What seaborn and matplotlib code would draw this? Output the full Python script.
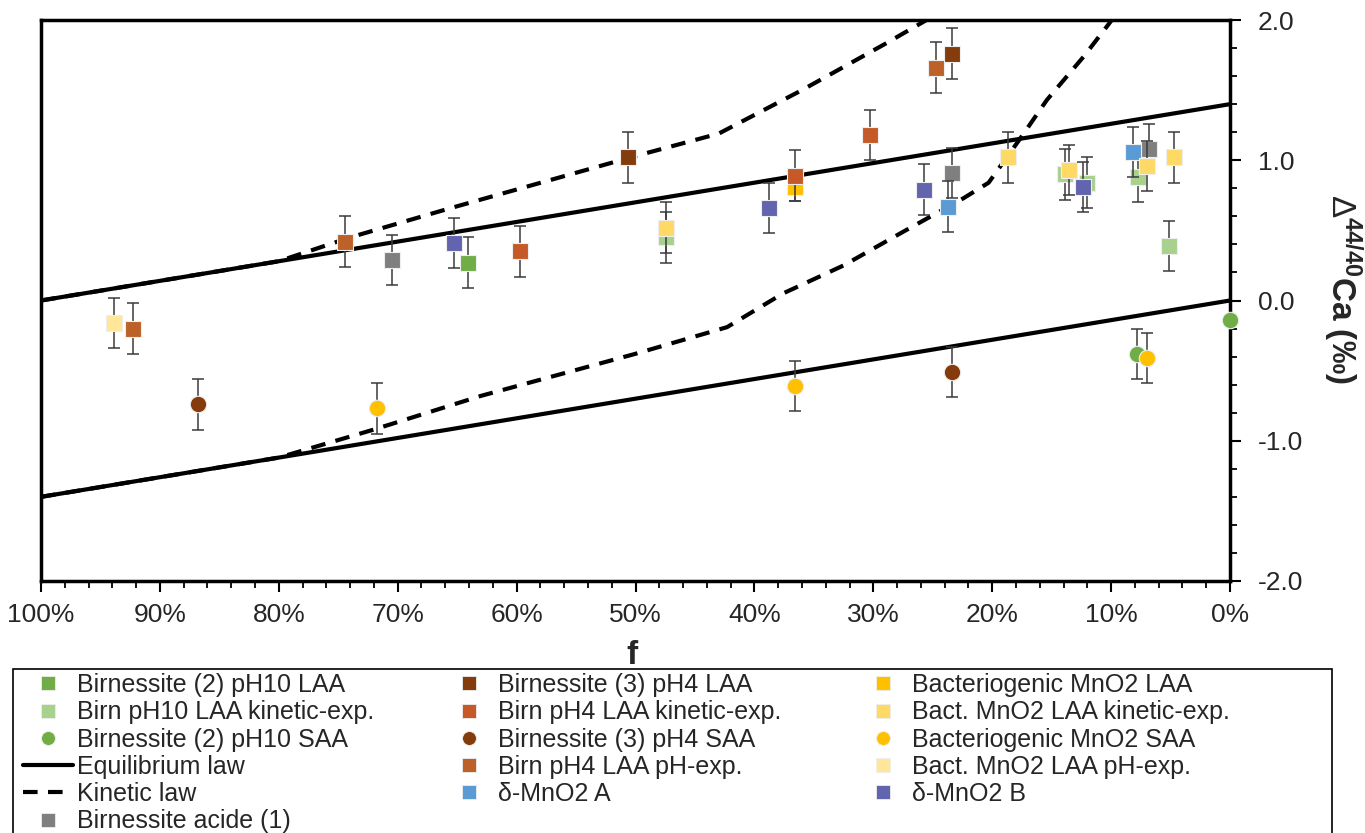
import matplotlib
matplotlib.use('Agg')
import matplotlib.pyplot as plt
import seaborn as sns
from matplotlib.lines import Line2D
from matplotlib.patches import Rectangle
from matplotlib.ticker import MultipleLocator, FuncFormatter

# Style
sns.set_style('ticks')
plt.rcParams['font.family'] = ['Liberation Sans', 'DejaVu Sans']
plt.rcParams['axes.unicode_minus'] = False
plt.rcParams['mathtext.fontset'] = 'custom'
plt.rcParams['mathtext.rm'] = 'Liberation Sans'
plt.rcParams['mathtext.bf'] = 'Liberation Sans:bold'

W, H = 1365, 833

# =============================================================================
# Data (f in %, delta 44/40Ca in permil)
# =============================================================================
# model curves
eq_f = [100, 0]
eq_upper = [0.0, 1.4]
eq_lower = [-1.4, 0.0]

kin_up_f = [100, 90, 80, 74, 65.5, 50, 43, 36, 29, 24.5]
kin_up_v = [0.0, 0.14, 0.28, 0.45, 0.66, 1.03, 1.19, 1.5, 1.83, 2.05]

kin_lo_f = [100, 90, 80, 72, 63, 50, 42.3, 37.6, 32.5, 27.7, 22.4, 20.3, 17.6, 15.4, 12.3, 10.3, 9.5]
kin_lo_v = [-1.4, -1.26, -1.12, -0.92, -0.68, -0.38, -0.19, 0.05, 0.25, 0.48, 0.73, 0.84, 1.16, 1.43, 1.74, 1.96, 2.05]

# measurements
b2_ph10_laa_f = [64.1]
b2_ph10_laa_v = [0.27]
b2_ph10_laa_e = [0.18]

ph10_kin_f = [47.4, 13.9, 12.0, 7.7, 5.1]
ph10_kin_v = [0.45, 0.90, 0.84, 0.88, 0.39]
ph10_kin_e = [0.18, 0.18, 0.18, 0.18, 0.18]

b2_ph10_saa_f = [7.8, 0.0]
b2_ph10_saa_v = [-0.38, -0.14]
b2_ph10_saa_e = [0.18, 0.0]

acide_f = [70.5, 23.4, 6.8]
acide_v = [0.29, 0.91, 1.08]
acide_e = [0.18, 0.18, 0.18]

b3_ph4_laa_f = [50.6, 23.4]
b3_ph4_laa_v = [1.02, 1.76]
b3_ph4_laa_e = [0.18, 0.18]

ph4_kin_f = [59.7, 36.6, 30.3]
ph4_kin_v = [0.35, 0.89, 1.18]
ph4_kin_e = [0.18, 0.18, 0.18]

b3_ph4_saa_f = [86.8, 23.4]
b3_ph4_saa_v = [-0.74, -0.51]
b3_ph4_saa_e = [0.18, 0.18]

ph4_ph_f = [92.3, 74.4, 24.7]
ph4_ph_v = [-0.20, 0.42, 1.66]
ph4_ph_e = [0.18, 0.18, 0.18]

dmno2_a_f = [23.7, 8.2]
dmno2_a_v = [0.67, 1.06]
dmno2_a_e = [0.18, 0.18]

bact_laa_f = [36.6]
bact_laa_v = [0.81]
bact_laa_e = [0.1]

bact_kin_f = [47.4, 18.7, 13.5, 7.0, 4.7]
bact_kin_v = [0.52, 1.02, 0.93, 0.96, 1.02]
bact_kin_e = [0.18, 0.18, 0.18, 0.18, 0.18]

bact_saa_f = [71.7, 36.6, 7.0]
bact_saa_v = [-0.77, -0.61, -0.41]
bact_saa_e = [0.18, 0.18, 0.18]

bact_ph_f = [93.9]
bact_ph_v = [-0.16]
bact_ph_e = [0.18]

dmno2_b_f = [65.3, 38.8, 25.7, 12.4]
dmno2_b_v = [0.41, 0.66, 0.79, 0.81]
dmno2_b_e = [0.18, 0.18, 0.18, 0.18]

# label, f, value, err, color, marker  (drawing order)
series = [
    ('Birnessite (2) pH10 LAA', b2_ph10_laa_f, b2_ph10_laa_v, b2_ph10_laa_e, '#70AD47', 's'),
    ('Birn pH10 LAA kinetic-exp.', ph10_kin_f, ph10_kin_v, ph10_kin_e, '#A9D18E', 's'),
    ('Birnessite (2) pH10 SAA', b2_ph10_saa_f, b2_ph10_saa_v, b2_ph10_saa_e, '#70AD47', 'o'),
    ('Birnessite acide (1)', acide_f, acide_v, acide_e, '#7F7F7F', 's'),
    ('Birnessite (3) pH4 LAA', b3_ph4_laa_f, b3_ph4_laa_v, b3_ph4_laa_e, '#843C0C', 's'),
    ('Bacteriogenic MnO2 LAA', bact_laa_f, bact_laa_v, bact_laa_e, '#FFC000', 's'),
    ('Birn pH4 LAA kinetic-exp.', ph4_kin_f, ph4_kin_v, ph4_kin_e, '#C55A28', 's'),
    ('Birnessite (3) pH4 SAA', b3_ph4_saa_f, b3_ph4_saa_v, b3_ph4_saa_e, '#843C0C', 'o'),
    ('Birn pH4 LAA pH-exp.', ph4_ph_f, ph4_ph_v, ph4_ph_e, '#BC6128', 's'),
    ('δ-MnO2 A', dmno2_a_f, dmno2_a_v, dmno2_a_e, '#5B9BD5', 's'),
    ('Bact. MnO2 LAA kinetic-exp.', bact_kin_f, bact_kin_v, bact_kin_e, '#FFD966', 's'),
    ('Bacteriogenic MnO2 SAA', bact_saa_f, bact_saa_v, bact_saa_e, '#FFC000', 'o'),
    ('Bact. MnO2 LAA pH-exp.', bact_ph_f, bact_ph_v, bact_ph_e, '#FFE699', 's'),
    ('δ-MnO2 B', dmno2_b_f, dmno2_b_v, dmno2_b_e, '#6264AE', 's'),
]
style = {lab: (col, mk) for lab, _, _, _, col, mk in series}

# =============================================================================
# Figure
# =============================================================================
fig = plt.figure(figsize=(W / 100, H / 100), dpi=100)
ax = fig.add_axes([41 / W, 1 - 581 / H, (1230 - 41) / W, (581 - 20) / H])

# laws
sns.lineplot(x=eq_f, y=eq_upper, color='black', lw=3, ax=ax, zorder=2)
sns.lineplot(x=eq_f, y=eq_lower, color='black', lw=3, ax=ax, zorder=2)
sns.lineplot(x=kin_up_f, y=kin_up_v, color='black', lw=3, ax=ax, zorder=2,
             sort=False, dashes=False, linestyle=(0, (3.5, 2.5)))
sns.lineplot(x=kin_lo_f, y=kin_lo_v, color='black', lw=3, ax=ax, zorder=2,
             sort=False, dashes=False, linestyle=(0, (3.5, 2.5)))

# points
for i, (lab, f, v, e, col, mk) in enumerate(series):
    ax.errorbar(f, v, yerr=e, fmt='none', ecolor='#3a3a3a', elinewidth=1.1,
                capsize=4, capthick=1.1, zorder=3 + i * 0.1)
    sns.scatterplot(x=f, y=v, marker=mk, s=140, color=col, edgecolor='#eeeeee',
                    linewidth=0.8, ax=ax, zorder=3.05 + i * 0.1, legend=False,
                    clip_on=False)

ax.set_xlim(100, 0)
ax.set_ylim(-2, 2)
ax.xaxis.set_major_locator(MultipleLocator(10))
ax.xaxis.set_minor_locator(MultipleLocator(2))
ax.xaxis.set_major_formatter(FuncFormatter(lambda x, p: f'{x:.0f}%'))
ax.yaxis.tick_right()
ax.yaxis.set_label_position('right')
ax.yaxis.set_major_locator(MultipleLocator(1))
ax.yaxis.set_minor_locator(MultipleLocator(0.2))
ax.yaxis.set_major_formatter(FuncFormatter(lambda y, p: f'{y:.1f}'))
ax.tick_params(axis='both', which='major', direction='out', length=8, width=1.5,
               labelsize=19, color='black')
ax.tick_params(axis='both', which='minor', direction='out', length=5, width=1.3,
               color='black')
ax.tick_params(axis='x', which='major', pad=8)
ax.tick_params(axis='y', which='major', pad=12)
for sp in ax.spines.values():
    sp.set_visible(True)
    sp.set_linewidth(2.5)
    sp.set_color('black')

ax.set_xlabel('f', fontsize=24, fontweight='bold')
ax.xaxis.set_label_coords(0.497, -0.105)
ax.set_ylabel(r'$\Delta^{\mathbf{44/40}}$Ca (‰)', fontsize=24, fontweight='bold',
              rotation=-90, va='center', ha='center')
ax.yaxis.set_label_coords(1.095, 0.52)

# =============================================================================
# Legend (three columns inside one box)
# =============================================================================
def marker_handle(lab):
    col, mk = style[lab]
    return Line2D([], [], linestyle='none', marker=mk, markersize=10,
                  markerfacecolor=col, markeredgecolor='#eeeeee', markeredgewidth=0.6)

eq_handle = Line2D([], [], color='black', lw=3)
kin_handle = Line2D([], [], color='black', lw=3, linestyle=(0, (3.5, 2.5)))

columns = [
    (23, [('Birnessite (2) pH10 LAA', None), ('Birn pH10 LAA kinetic-exp.', None),
          ('Birnessite (2) pH10 SAA', None), ('Equilibrium law', eq_handle),
          ('Kinetic law', kin_handle), ('Birnessite acide (1)', None)]),
    (444, [('Birnessite (3) pH4 LAA', None), ('Birn pH4 LAA kinetic-exp.', None),
           ('Birnessite (3) pH4 SAA', None), ('Birn pH4 LAA pH-exp.', None),
           ('δ-MnO2 A', None)]),
    (858, [('Bacteriogenic MnO2 LAA', None), ('Bact. MnO2 LAA kinetic-exp.', None),
           ('Bacteriogenic MnO2 SAA', None), ('Bact. MnO2 LAA pH-exp.', None),
           ('δ-MnO2 B', None)]),
]
for x0, entries in columns:
    handles = [h if h is not None else marker_handle(lab) for lab, h in entries]
    labels = [lab for lab, _ in entries]
    fig.legend(handles, labels, loc='upper left', bbox_to_anchor=(x0 / W, 1 - 673 / H),
               frameon=False, fontsize=18, handlelength=2.0, handletextpad=0.15,
               labelspacing=0.13, borderpad=0, borderaxespad=0)

fig.add_artist(Rectangle((13 / W, -0.02), (1332 - 13) / W, (1 - 669 / H) + 0.02,
                         transform=fig.transFigure, fill=False, ec='black', lw=1.2))

plt.savefig('out.png', dpi=100)
plt.close()
